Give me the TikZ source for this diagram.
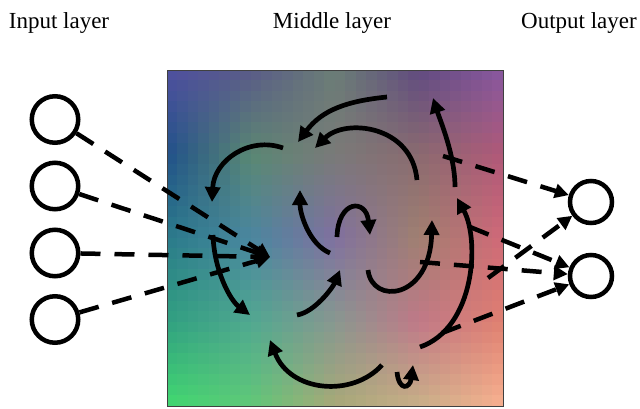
\documentclass[tikz,border=0pt]{standalone}
\usepackage{fontspec}
\setmainfont{Liberation Serif}
\usetikzlibrary{arrows.meta}
\definecolor{bgaa}{HTML}{5050A0}\definecolor{bgab}{HTML}{5A5A88}\definecolor{bgac}{HTML}{6A7E76}\definecolor{bgad}{HTML}{604A80}\definecolor{bgae}{HTML}{8858A0}
\definecolor{bgba}{HTML}{20508A}\definecolor{bgbb}{HTML}{5A8872}\definecolor{bgbc}{HTML}{7A7A78}\definecolor{bgbd}{HTML}{8A6A70}\definecolor{bgbe}{HTML}{B05878}
\definecolor{bgca}{HTML}{2A7A8A}\definecolor{bgcb}{HTML}{4A86A0}\definecolor{bgcc}{HTML}{8070A0}\definecolor{bgcd}{HTML}{A08070}\definecolor{bgce}{HTML}{D06878}
\definecolor{bgda}{HTML}{30A080}\definecolor{bgdb}{HTML}{50A890}\definecolor{bgdc}{HTML}{889890}\definecolor{bgdd}{HTML}{C07888}\definecolor{bgde}{HTML}{E08070}
\definecolor{bgea}{HTML}{40D870}\definecolor{bgeb}{HTML}{60C878}\definecolor{bgec}{HTML}{A8A878}\definecolor{bged}{HTML}{C8B088}\definecolor{bgee}{HTML}{F8B090}
\definecolor{frame}{HTML}{404040}
\def\ltr#1{\ifcase#1 a\or b\or c\or d\or e\fi}
\tikzset{
  neuronin/.style={circle,draw=black,line width=4.5pt,minimum size=46.5pt,inner sep=0pt,fill=white},
  neuronout/.style={circle,draw=black,line width=4.5pt,minimum size=42pt,inner sep=0pt,fill=white},
  dasharrow/.style={line width=4.5pt,dash pattern=on 20pt off 14pt,-{Triangle[length=14pt,width=14pt]}},
  flow/.style={line width=4.7pt,-{Triangle[length=15pt,width=15pt]}},
  layerlabel/.style={anchor=base,font=\fontsize{23}{28}\selectfont,inner sep=0pt}
}
\begin{document}
\begin{tikzpicture}[x=1pt,y=-1pt]
\useasboundingbox (0,0) rectangle (640,408);
% background field
\def\cw{10.5}
\foreach \i in {0,...,31}{
  \foreach \j in {0,...,31}{
    \pgfmathsetmacro{\uu}{(\i+0.5)/8}
    \pgfmathtruncatemacro{\pa}{min(floor(\uu),3)}
    \pgfmathtruncatemacro{\pb}{\pa+1}
    \pgfmathsetmacro{\fu}{(\uu-\pa)*100}
    \pgfmathsetmacro{\vv}{(\j+0.5)/8}
    \pgfmathtruncatemacro{\qa}{min(floor(\vv),3)}
    \pgfmathtruncatemacro{\qb}{\qa+1}
    \pgfmathsetmacro{\fv}{(\vv-\qa)*100}
    \edef\ctop{bg\ltr{\qa}\ltr{\pb}!\fu!bg\ltr{\qa}\ltr{\pa}}
    \edef\cbot{bg\ltr{\qb}\ltr{\pb}!\fu!bg\ltr{\qb}\ltr{\pa}}
    \colorlet{ctopc}{\ctop}
    \colorlet{cbotc}{\cbot}
    \colorlet{cellc}{cbotc!\fv!ctopc}
    \fill[cellc] (167+\i*\cw-0.3,70+\j*\cw-0.3) rectangle (167+\i*\cw+\cw+0.3,70+\j*\cw+\cw+0.3);
  }
}
\draw[frame,line width=1pt] (167,70) rectangle (503,406);
% labels
\node[layerlabel] (lin) at (59,28) {Input layer};
\node[layerlabel] (lmid) at (332,28) {Middle layer};
\node[layerlabel] (lout) at (579,28) {Output layer};
% input neurons
\node[neuronin] (i1) at (55,119.5) {};
\node[neuronin] (i2) at (55,186) {};
\node[neuronin] (i3) at (55,253) {};
\node[neuronin] (i4) at (55,319.5) {};
% output neurons
\node[neuronout] (o1) at (591,202) {};
\node[neuronout] (o2) at (591,276) {};
% input arrows
\coordinate (hub) at (270,257);
\foreach \n in {i1,i2,i3,i4}{\draw[dasharrow] (\n) -- (hub);}
% output arrows
\coordinate (s1) at (443,156);
\coordinate (s2) at (488,278);
\coordinate (s3) at (470,227);
\coordinate (s4) at (420,262);
\coordinate (s5) at (442,333);
\draw[dasharrow] (s1) -- (o1);
\draw[dasharrow] (s2) -- (o1);
\draw[dasharrow] (s3) -- (o2);
\draw[dasharrow] (s4) -- (o2);
\draw[dasharrow] (s5) -- (o2);
% flow arrows
\coordinate (a1s) at (387,97);   \coordinate (a1e) at (298,142);
\coordinate (a2s) at (417,180);  \coordinate (a2e) at (315,148);
\coordinate (a3s) at (283,148);  \coordinate (a3e) at (212,202);
\coordinate (a4s) at (213,235);  \coordinate (a4e) at (250,315);
\coordinate (a5s) at (330,253);  \coordinate (a5e) at (300,190);
\coordinate (a6s) at (337,237);  \coordinate (a6e) at (370,235);
\coordinate (a7s) at (297,315);  \coordinate (a7e) at (340,270);
\coordinate (a8s) at (368,270);  \coordinate (a8e) at (432,220);
\coordinate (a9s) at (455,187);  \coordinate (a9e) at (433,98);
\coordinate (a10s) at (420,347); \coordinate (a10e) at (457,198);
\coordinate (a11s) at (382,365); \coordinate (a11e) at (270,340);
\coordinate (a12s) at (397,372); \coordinate (a12e) at (413,365);
\draw[flow] (a1s) .. controls (347,101) and (322,110) .. (a1e);
\draw[flow] (a2s) .. controls (412,125) and (345,118) .. (a2e);
\draw[flow] (a3s) .. controls (250,136) and (214,160) .. (a3e);
\draw[flow] (a4s) .. controls (214,270) and (230,300) .. (a4e);
\draw[flow] (a5s) .. controls (310,245) and (300,215) .. (a5e);
\draw[flow] (a6s) .. controls (338,200) and (366,198) .. (a6e);
\draw[flow] (a7s) .. controls (315,312) and (333,287) .. (a7e);
\draw[flow] (a8s) .. controls (372,305) and (430,300) .. (a8e);
\draw[flow] (a9s) .. controls (455,155) and (440,120) .. (a9e);
\draw[flow] (a10s) .. controls (475,328) and (480,240) .. (a10e);
\draw[flow] (a11s) .. controls (352,398) and (290,392) .. (a11e);
\draw[flow] (a12s) .. controls (399,392) and (410,388) .. (a12e);
\end{tikzpicture}
\end{document}
